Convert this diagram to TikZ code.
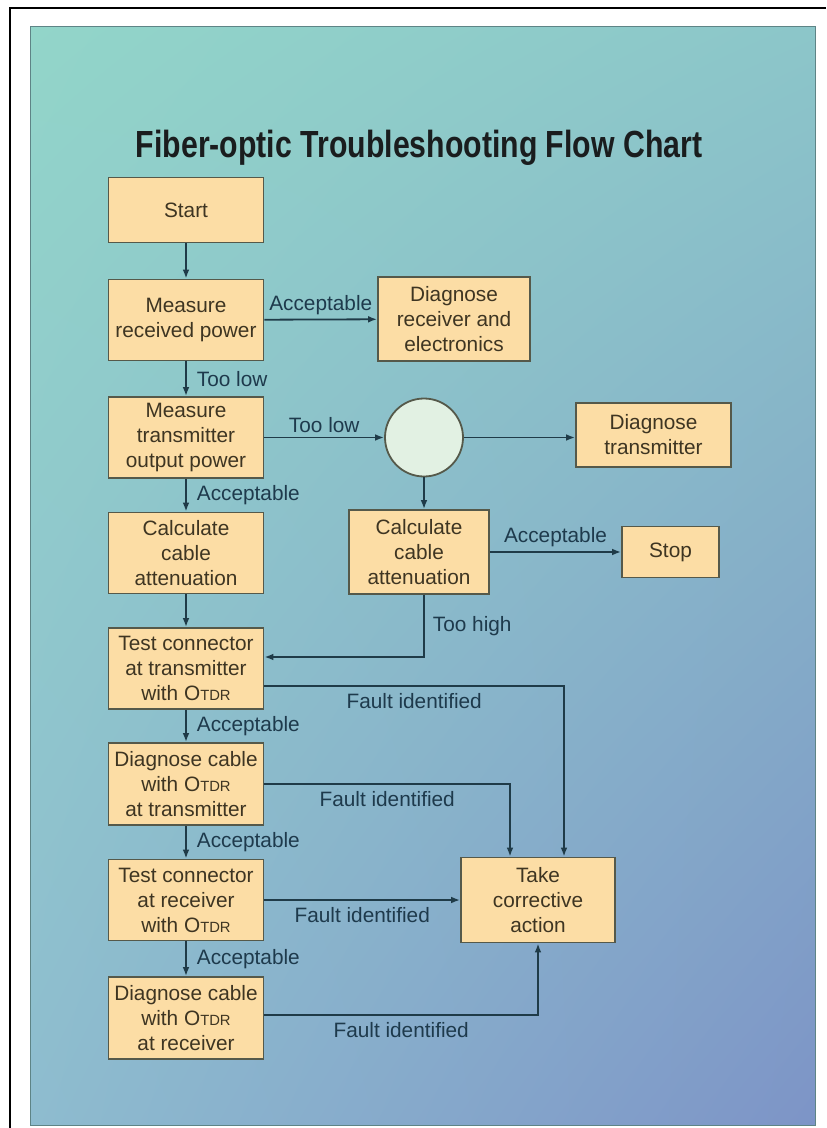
\documentclass[tikz,border=0pt]{standalone}
\usepackage{fontspec}
\setmainfont{Liberation Sans}
\newfontfamily\titlefont{Liberation Sans}[FakeStretch=0.80]
\usepackage{xcolor}
\definecolor{boxfill}{HTML}{FCDDA5}
\definecolor{boxborder}{HTML}{55594A}
\definecolor{boxtext}{HTML}{3E3522}
\definecolor{linecolor}{HTML}{1F3B48}
\definecolor{answercolor}{HTML}{1E3A4C}
\definecolor{titlecolor}{HTML}{1A1D1E}
\definecolor{circlefill}{HTML}{E2F1E3}
\definecolor{paneltl}{HTML}{92D5C9}
\definecolor{paneltr}{HTML}{8CC6C9}
\definecolor{panelbl}{HTML}{8EBCCF}
\definecolor{panelbr}{HTML}{7D94C7}
\definecolor{paneledge}{HTML}{5E8486}
\usetikzlibrary{positioning,arrows.meta,calc,shadings}
\newcommand{\otdr}{O{\fontsize{7.4}{9}\selectfont TDR}}
\tikzset{
    block/.style={
        rectangle,
        draw=boxborder,
        fill=boxfill,
        text=boxtext,
        minimum width=77.5pt,
        minimum height=40.5pt,
        align=center,
        inner sep=1pt,
        line width=0.9pt,
        font=\fontsize{10.4}{12.5}\selectfont,
    },
    decision/.style={
        circle,
        draw=boxborder,
        fill=circlefill,
        minimum size=39pt,
        line width=0.9pt,
    },
    flow/.style={
        -{Latex[length=4.5pt,width=3.4pt]},
        line width=0.9pt,
        linecolor,
    },
    answer/.style={
        text=answercolor,
        inner sep=1pt,
        font=\fontsize{10.4}{12.5}\selectfont,
    },
    heading/.style={
        text=titlecolor,
        font=\titlefont\bfseries\fontsize{18.9}{22}\selectfont,
    },
}
\begin{document}
\begin{tikzpicture}[x=0.5pt,y=-0.5pt]
    \useasboundingbox (0,0) rectangle (826,1128);
    % frame and panel
    \draw[line width=1.2pt] (10,1128) -- (10,8) -- (826,8);
    \shade[upper left=paneltl, upper right=paneltr, lower left=panelbl, lower right=panelbr] (30,27) rectangle (815,1125);
    \draw[paneledge, line width=0.5pt] (30,27) rectangle (815,1125);

    \node[heading] (title) at (419,148) {Fiber-optic Troubleshooting Flow Chart};

    % left column
    \node[block, minimum height=32.5pt] (start) at (186,210) {Start};
    \node[block] (mrp) at (186,320) {Measure\\received power};
    \node[block] (mtx) at (186,437.5) {Measure\\transmitter\\output power};
    \node[block] (cca1) at (186,553) {Calculate\\cable\\attenuation};
    \node[block] (tct) at (186,668.5) {Test connector\\at transmitter\\with \otdr};
    \node[block, minimum height=41pt] (dct) at (186,784) {Diagnose cable\\with \otdr\\at transmitter};
    \node[block] (tcr) at (186,900) {Test connector\\at receiver\\with \otdr};
    \node[block, minimum height=41pt] (dcr) at (186,1018) {Diagnose cable\\with \otdr\\at receiver};

    % right side
    \node[block, minimum width=76pt, minimum height=42pt] (drx) at (454,319) {Diagnose\\receiver and\\electronics};
    \node[decision] (circ) at (424,437.5) {};
    \node[block, minimum height=32pt] (dtx) at (653.5,435) {Diagnose\\transmitter};
    \node[block, minimum width=70pt, minimum height=42pt] (cca2) at (419,552) {Calculate\\cable\\attenuation};
    \node[block, minimum width=48.5pt, minimum height=25.5pt] (stop) at (670.5,552) {Stop};
    \node[block, minimum width=77pt, minimum height=42.5pt] (tca) at (538,900) {Take\\corrective\\action};

    % connectors
    \draw[flow] (start) -- (mrp);
    \draw[flow] (mrp) -- node[answer, above=1pt] {Acceptable} (drx);
    \draw[flow] (mrp) -- node[answer, right=4pt] {Too low} (mtx);
    \draw[flow] (mtx) -- node[answer, above=1pt] {Too low} (circ);
    \draw[flow] (circ) -- (circ -| dtx.west);
    \draw[flow] (circ) -- (circ |- cca2.north);
    \draw[flow] (cca2) -- node[answer, above=1pt] {Acceptable} (stop);
    \draw[flow] (mtx) -- node[answer, right=4pt] {Acceptable} (cca1);
    \draw[flow] (cca1) -- (tct);
    \draw[flow] (cca2.south -| circ) |- node[answer, right=3pt, pos=0.25] {Too high} ([yshift=5.75pt]tct.east);
    \draw[flow] ([yshift=-8.75pt]tct.east) -| node[answer, below=2.5pt, pos=0.25] {Fault identified} ([xshift=13pt]tca.north);
    \draw[flow] (tct) -- node[answer, right=4pt] {Acceptable} (dct);
    \draw[flow] (dct.east) -| node[answer, below=2.5pt, pos=0.25] {Fault identified} ([xshift=-14pt]tca.north);
    \draw[flow] (dct) -- node[answer, right=4pt] {Acceptable} (tcr);
    \draw[flow] (tcr) -- node[answer, below=2.5pt] {Fault identified} (tca);
    \draw[flow] (tcr) -- node[answer, right=4pt] {Acceptable} (dcr);
    \draw[flow] ([yshift=1.5pt]dcr.east) -| node[answer, below=2.5pt, pos=0.25] {Fault identified} (tca.south);
\end{tikzpicture}
\end{document}
